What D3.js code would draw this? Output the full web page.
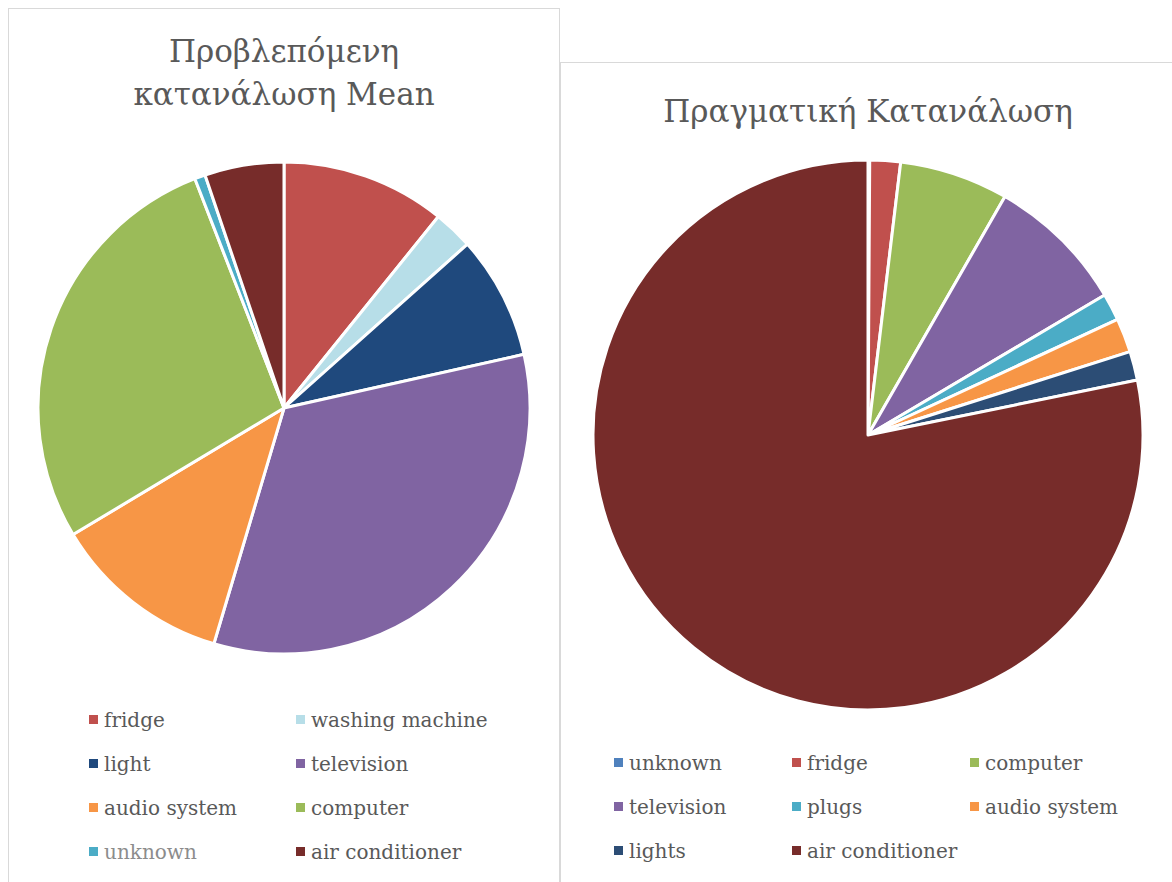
<!DOCTYPE html>
<html>
<head>
<meta charset="utf-8">
<script src="https://cdn.jsdelivr.net/npm/d3@7"></script>
<style>
  body { margin: 0; background: #fff; }
  svg text { font-family: "DejaVu Serif", serif; fill: #595959; }
</style>
</head>
<body>
<div id="chart"></div>
<script>
// left chart: predicted consumption (percent)
const leftLabels = ["fridge", "washing machine", "light", "television", "audio system", "computer", "unknown", "air conditioner"];
const leftValues = [10.8, 2.6, 8.1, 33.1, 11.8, 27.7, 0.7, 5.2];
const leftColors = ["#C0504D", "#B7DEE8", "#1F497D", "#8064A2", "#F79646", "#9BBB59", "#4BACC6", "#772C2A"];

// right chart: actual consumption (percent)
const rightLabels = ["unknown", "fridge", "computer", "television", "plugs", "audio system", "lights", "air conditioner"];
const rightValues = [0.1, 1.8, 6.4, 8.2, 1.6, 2.0, 1.7, 78.2];
const rightColors = ["#4F81BD", "#C0504D", "#9BBB59", "#8064A2", "#4BACC6", "#F79646", "#2C4D75", "#772C2A"];

const w = 1172, h = 882;

let svg = d3.select("#chart").append("svg")
            .attr("width", w)
            .attr("height", h);

// panel borders
svg.append("rect").attr("x", 8.5).attr("y", 8.5).attr("width", 551).attr("height", 900)
   .attr("fill", "none").attr("stroke", "#d9d9d9");
svg.append("rect").attr("x", 560.5).attr("y", 62.5).attr("width", 640).attr("height", 900)
   .attr("fill", "none").attr("stroke", "#d9d9d9");

const drawPie = (labels, values, colors, cx, cy, r) => {
    let pie = d3.pie().sort(null).value(d => d);
    let arc = d3.arc().innerRadius(0).outerRadius(r);
    let g = svg.append("g").attr("transform", "translate(" + cx + "," + cy + ")");
    g.selectAll("path").data(pie(values)).enter().append("path")
     .attr("d", arc)
     .attr("fill", (d, i) => colors[i])
     .attr("stroke", "#fff")
     .attr("stroke-width", 3)
     .attr("stroke-linejoin", "round");
};

drawPie(leftLabels, leftValues, leftColors, 284, 408, 246);
drawPie(rightLabels, rightValues, rightColors, 868, 435, 275);

// titles
svg.append("text").attr("x", 284).attr("y", 62).attr("text-anchor", "middle")
   .attr("font-size", "31px").text("Προβλεπόμενη");
svg.append("text").attr("x", 284).attr("y", 105).attr("text-anchor", "middle")
   .attr("font-size", "31px").text("κατανάλωση Mean");
svg.append("text").attr("x", 868).attr("y", 122).attr("text-anchor", "middle")
   .attr("font-size", "31px").text("Πραγματική Κατανάλωση");

// legends
const drawLegend = (labels, colors, cols, xs, y0, dy, greyIdx) => {
    let lg = svg.append("g");
    let items = lg.selectAll("g").data(labels).enter().append("g")
                  .attr("transform", (d, i) => "translate(" + xs[i % cols] + "," + (y0 + Math.floor(i / cols) * dy) + ")");
    items.append("rect").attr("x", 0).attr("y", -5).attr("width", 9).attr("height", 9)
         .attr("fill", (d, i) => colors[i]);
    items.append("text").attr("x", 15).attr("y", 0).attr("dy", "0.35em")
         .attr("font-size", "20px")
         .style("fill", (d, i) => i === greyIdx ? "#8c8c8c" : null)
         .text(d => d);
};

drawLegend(leftLabels, leftColors, 2, [89, 296], 720, 44, 6);
drawLegend(rightLabels, rightColors, 3, [614, 792, 970], 763, 44, -1);
</script>
</body>
</html>
